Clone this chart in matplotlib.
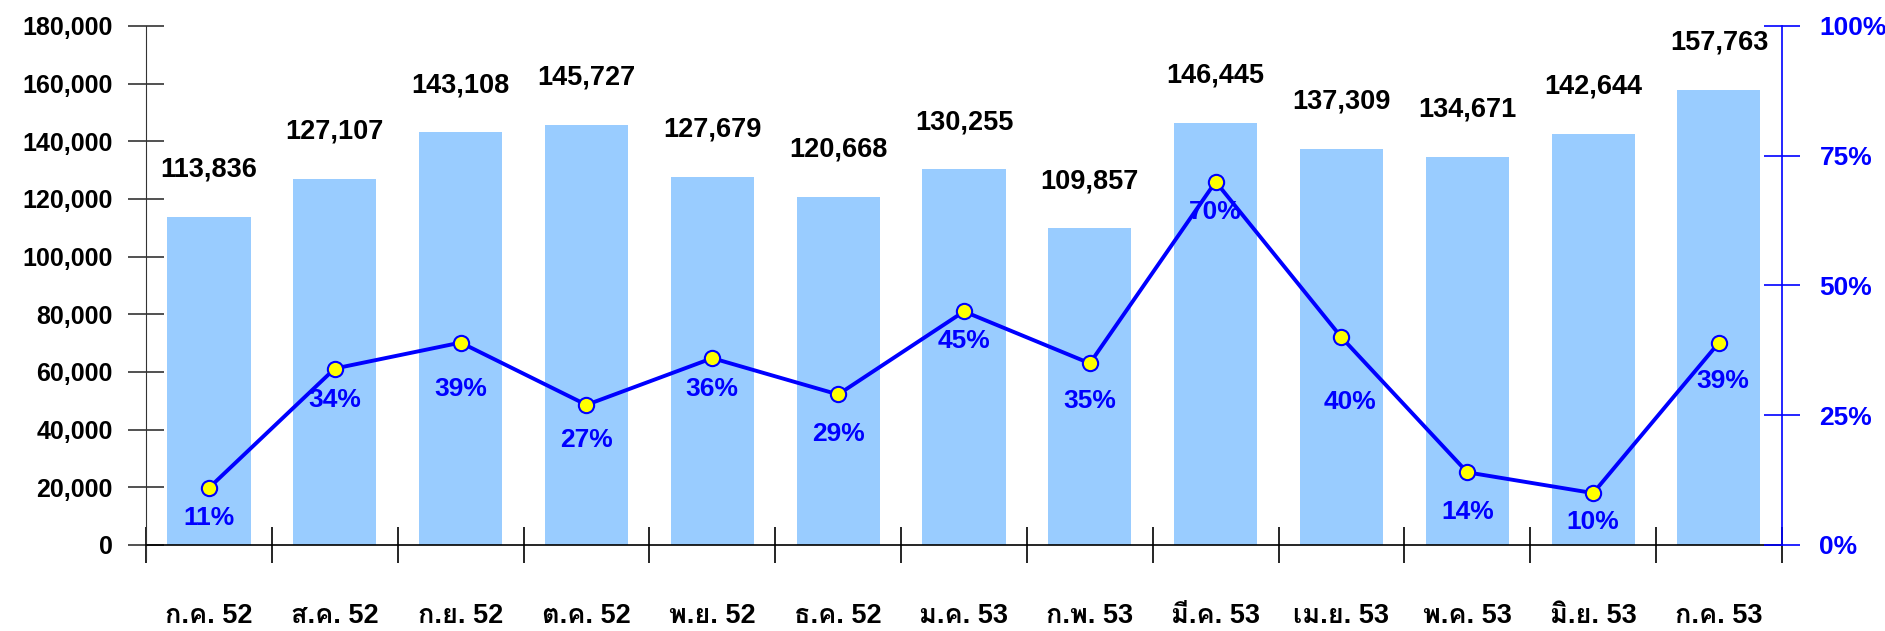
import matplotlib
matplotlib.use('Agg')
import matplotlib.pyplot as plt
from matplotlib import font_manager
from matplotlib.ft2font import FT2Font
import numpy as np

months = ['ก.ค. 52', 'ส.ค. 52', 'ก.ย. 52', 'ต.ค. 52', 'พ.ย. 52', 'ธ.ค. 52', 'ม.ค. 53',
          'ก.พ. 53', 'มี.ค. 53', 'เม.ย. 53', 'พ.ค. 53', 'มิ.ย. 53', 'ก.ค. 53']
counts = [113836, 127107, 143108, 145727, 127679, 120668, 130255,
          109857, 146445, 137309, 134671, 142644, 157763]
pct = [11, 34, 39, 27, 36, 29, 45, 35, 70, 40, 14, 10, 39]

# how far below each marker its % label sits (pixels), as placed in the original
lbl_drop = [30, 31, 46, 35, 31, 40, 30, 38, 30, 65, 40, 29, 38]
lbl_shift = [0, 0, 0, 0, 0, 0, 0, 0, 0, 9, 0, 0, 4]


# find some installed font that has Thai glyphs
def thai_font():
    for f in font_manager.fontManager.ttflist:
        try:
            if 0x0E01 in FT2Font(f.fname).get_charmap():
                return f.name
        except Exception:
            pass
    return None


thai = thai_font()
fams = ['Liberation Sans', 'DejaVu Sans']
if thai:
    fams = ['Liberation Sans', thai, 'DejaVu Sans']
plt.rcParams['font.family'] = fams

blue = '#0000FF'
x = np.arange(len(months))

fig = plt.figure(figsize=(18.85, 6.31), dpi=100)
ax = fig.add_axes([0.0775, 0.1363, 0.8678, 0.8225])
ax.bar(x, counts, width=0.66, color='#99CCFF', zorder=1)
ax.set_xlim(-0.5, len(months) - 0.5)
ax.set_ylim(0, 180000)
ax.set_yticks(np.arange(0, 180001, 20000))
ax.set_yticklabels(['{:,}'.format(v) for v in range(0, 180001, 20000)],
                   fontsize=18, fontweight='bold')
ax.set_xticks(x)
ax.set_xticklabels(months, fontsize=19.5, fontweight='bold')
ax.set_xticks(np.arange(-0.5, len(months), 1), minor=True)
ax.tick_params(axis='x', which='major', length=0, pad=42)
ax.tick_params(axis='x', which='minor', direction='inout', length=26, width=1.2)
ax.tick_params(axis='y', direction='inout', length=26, width=1.2, colors='#333333',
               labelcolor='black', pad=11)
for s in ['top', 'right']:
    ax.spines[s].set_visible(False)
ax.spines['left'].set_color('#333333')
ax.spines['left'].set_bounds(-5000, 180000)
ax.spines['bottom'].set_color('black')
ax.spines['bottom'].set_linewidth(1.2)

for i, v in enumerate(counts):
    ax.annotate('{:,}'.format(v), (x[i], v), xytext=(0, 34), textcoords='offset points',
                ha='center', va='center', fontsize=19.5, fontweight='bold')

ax2 = ax.twinx()
ax2.set_ylim(0, 100)
ax2.set_yticks([0, 25, 50, 75, 100])
ax2.set_yticklabels(['0%', '25%', '50%', '75%', '100%'], fontsize=19,
                    fontweight='bold', color=blue)
ax2.tick_params(axis='y', direction='inout', length=26, width=1.2, colors=blue, pad=14)
for s in ['top', 'left', 'bottom']:
    ax2.spines[s].set_visible(False)
ax2.spines['right'].set_color(blue)
ax2.spines['right'].set_linewidth(1.2)

ax2.plot(x, pct, color=blue, lw=2.8, marker='o', markersize=11,
         markerfacecolor='#FFFF00', markeredgecolor=blue, markeredgewidth=1.5, zorder=3)
for i, p in enumerate(pct):
    ax2.annotate('{}%'.format(p), (x[i], p),
                 xytext=(lbl_shift[i] * 0.72, -lbl_drop[i] * 0.72), textcoords='offset points',
                 ha='center', va='center', fontsize=19, fontweight='bold', color=blue)

fig.savefig('out.png', dpi=100)
